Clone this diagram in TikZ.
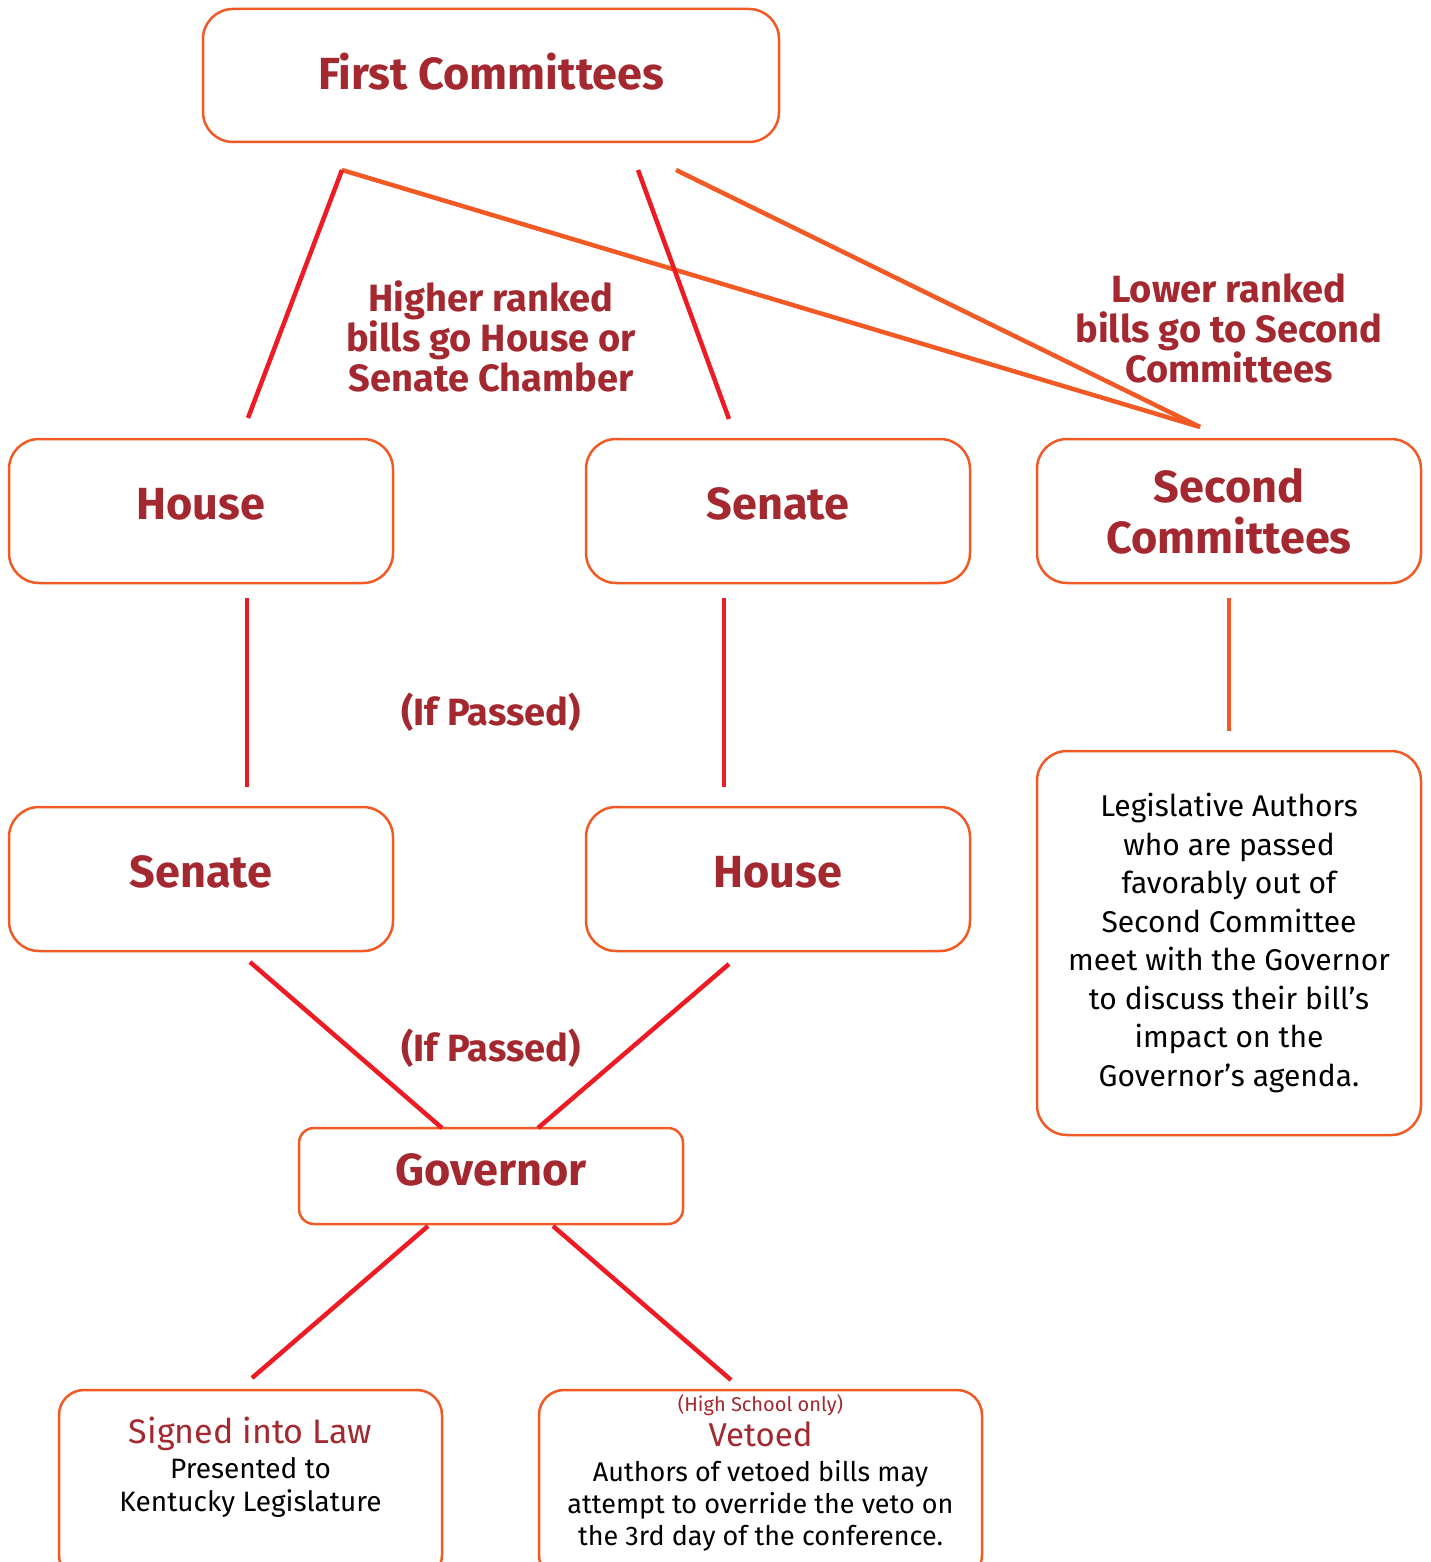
\documentclass[tikz,border=0pt]{standalone}
\usepackage{fontspec}
\setmainfont{Fira Sans}
\usetikzlibrary{positioning}
\definecolor{darkred}{HTML}{A3282F}
\definecolor{boxorange}{HTML}{F15A24}
\definecolor{linered}{HTML}{ED1C24}

\begin{document}
\begin{tikzpicture}
[x=1pt,y=-1pt,
 every node/.style={font=\fontsize{45}{55}\selectfont\bfseries,text=darkred,align=center,inner sep=0pt},
 box/.style={draw=boxorange,line width=2.5pt,rounded corners=30pt,minimum width=384pt,minimum height=144pt},
 chamber/.style={box,text depth=14pt},
 note/.style={font=\fontsize{38}{40}\selectfont\bfseries},
 body/.style={font=\fontsize{30}{38.5}\selectfont,text=black},
 redline/.style={linered,line width=4.5pt},
 orangeline/.style={boxorange,line width=4.5pt}]
\useasboundingbox (0,0) rectangle (1430,1562);
\node[box,minimum width=576pt,minimum height=133pt,text depth=8pt] (first) at (491,75.5) {First Committees};
\node[chamber] (houseA)  [on grid,below left=435.5pt and 290pt of first] {House};
\node[chamber] (senateA) [on grid,right=577pt of houseA]              {Senate};
\node[box]     (second)  [on grid,right=451pt of senateA]             {Second\\[-4pt]Committees};
\node[chamber] (senateB) [on grid,below=368pt of houseA]              {Senate};
\node[chamber] (houseB)  [on grid,below=368pt of senateA]             {House};
\node[box,body,minimum height=384pt] (authors) [on grid,below=432pt of second]
  {Legislative Authors\\who are passed\\favorably out of\\Second Committee\\meet with the Governor\\to discuss their bill’s\\impact on the\\Governor’s agenda.};
\node[box,rounded corners=15pt,minimum height=96pt,text depth=12pt] (governor) [on grid,below=1100.5pt of first] {Governor};
\node[box,rounded corners=25pt,minimum width=383pt,minimum height=190pt] (signed) [on grid,below left=309pt and 240.5pt of governor] {};
\node[box,rounded corners=25pt,minimum width=443pt,minimum height=190pt] (vetoed) [on grid,below right=309pt and 269.5pt of governor] {};
\node[body,font=\fontsize{28}{33}\selectfont] (signedtxt) [on grid,above=18pt of signed]
  {\textcolor{darkred}{\fontsize{34}{34}\selectfont Signed into Law}\\[2pt]Presented to\\Kentucky Legislature};
\node[body,font=\fontsize{27}{32}\selectfont] (vetoedtxt) [on grid,above=12pt of vetoed]
  {\textcolor{darkred}{\fontsize{20}{20}\selectfont (High School only)}\\[3pt]\textcolor{darkred}{\fontsize{33}{33}\selectfont Vetoed}\\[3pt]Authors of vetoed bills may\\attempt to override the veto on\\the 3rd day of the conference.};
\node[note] (higher)  [on grid,below=260.5pt of first]                 {Higher ranked\\bills go House or\\Senate Chamber};
\node[note] (lower)   [on grid,above=183pt of second]                  {Lower ranked\\bills go to Second\\Committees};
\node[note] (passA)   [on grid,below right=201pt and 290pt of houseA]  {(If Passed)};
\node[note] (passB)   [on grid,below right=169pt and 290pt of senateB] {(If Passed)};
\coordinate (fL)  at (342,170);
\coordinate (fM)  at (638,170);
\coordinate (fR)  at (676,170);
\coordinate (hAt) at (248,418);
\coordinate (sAt) at (729,419);
\coordinate (scT) at (1200,427);
\coordinate (hAb) at (247,598);
\coordinate (sBt) at (247,787);
\coordinate (sAb) at (724,598);
\coordinate (hBt) at (724,787);
\coordinate (scB) at (1229,598);
\coordinate (auT) at (1229,731);
\coordinate (sBb) at (250,962);
\coordinate (gL)  at (442,1128);
\coordinate (hBb) at (729,964);
\coordinate (gR)  at (538,1128);
\coordinate (gBL) at (428,1226);
\coordinate (sgT) at (252,1378);
\coordinate (gBR) at (553,1226);
\coordinate (vtT) at (731,1380);
\draw[orangeline] (fL)  -- (scT);
\draw[orangeline] (fR)  -- (scT);
\draw[redline]    (fL)  -- (hAt);
\draw[redline]    (fM)  -- (sAt);
\draw[redline]    (hAb) -- (sBt);
\draw[redline]    (sAb) -- (hBt);
\draw[orangeline] (scB) -- (auT);
\draw[redline]    (sBb) -- (gL);
\draw[redline]    (hBb) -- (gR);
\draw[redline]    (gBL) -- (sgT);
\draw[redline]    (gBR) -- (vtT);
\end{tikzpicture}
\end{document}
